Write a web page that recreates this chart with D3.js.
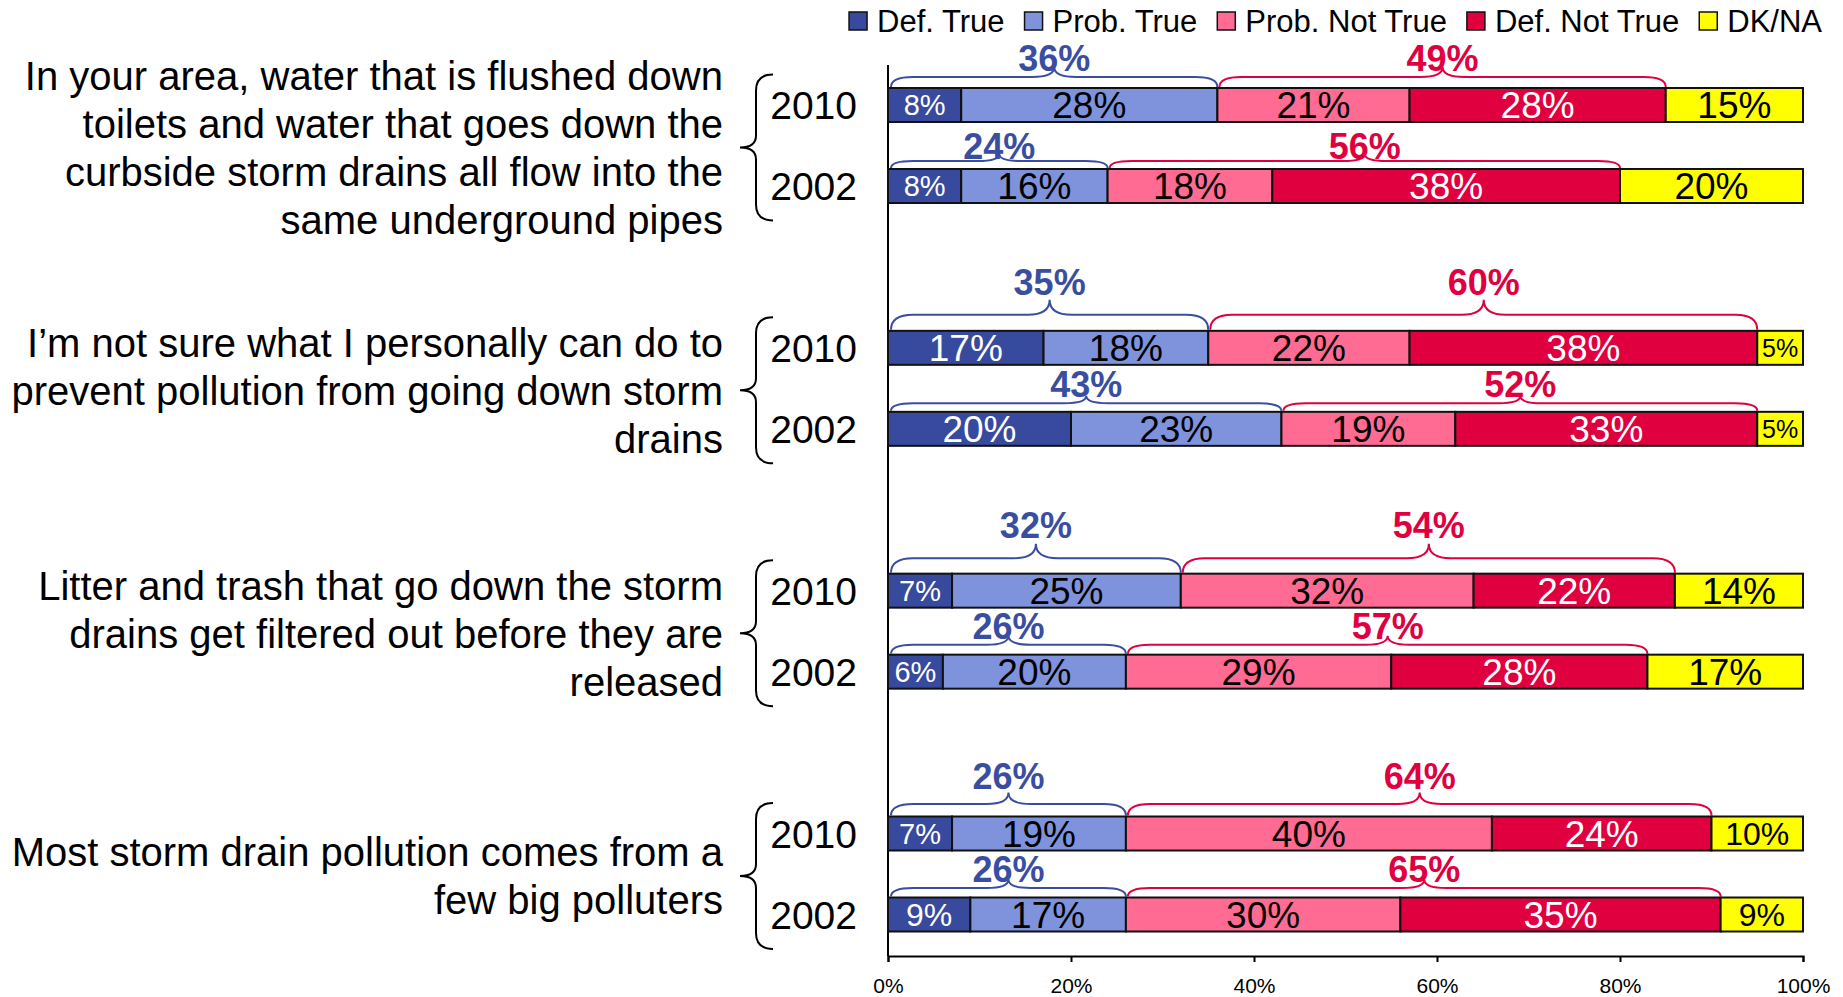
<!DOCTYPE html>
<html>
<head>
<meta charset="utf-8">
<script src="https://cdn.jsdelivr.net/npm/d3@7"></script>
<style>
  html, body { margin: 0; padding: 0; background: #fff; }
  svg { display: block; font-family: "Liberation Sans", Arial, sans-serif; }
</style>
</head>
<body>
<svg id="chart" width="1843" height="997"></svg>
<script>
// ---------------- DATA ----------------
const categories = [
  ["In your area, water that is flushed down", "toilets and water that goes down the", "curbside storm drains all flow into the", "same underground pipes"],
  ["I\u2019m not sure what I personally can do to", "prevent pollution from going down storm", "drains"],
  ["Litter and trash that go down the storm", "drains get filtered out before they are", "released"],
  ["Most storm drain pollution comes from a", "few big polluters"]
];
const years = ["2010", "2002"];
const seriesNames = ["Def. True", "Prob. True", "Prob. Not True", "Def. Not True", "DK/NA"];
// rows: group1-2010, group1-2002, group2-2010, group2-2002, ...
const defTrue     = [8, 8, 17, 20, 7, 6, 7, 9];
const probTrue    = [28, 16, 18, 23, 25, 20, 19, 17];
const probNotTrue = [21, 18, 22, 19, 32, 29, 40, 30];
const defNotTrue  = [28, 38, 38, 33, 22, 28, 24, 35];
const dkNA        = [15, 20, 5, 5, 14, 17, 10, 9];
const tickValues  = [0, 0.2, 0.4, 0.6, 0.8, 1];

// ---------------- LAYOUT / STYLE ----------------
const W = 1843, H = 997;
const colors = ["#374a9d", "#7f93dc", "#ff6b93", "#e0003f", "#ffff00"];
const labelColors = ["#fff", "#000", "#000", "#fff", "#000"];
const blue = "#3a4ea1", red = "#e0003f";
const fontFamily = '"Liberation Sans", Arial, sans-serif';
// brace tip rise above bar top, per group [2010, 2002]
const braceRise = [[20, 14], [30, 15], [29, 18], [23, 17]];
// brace label centre above bar top, per group [2010, 2002]
const labelRise = [[30, 23], [49, 28], [49, 29], [40, 28]];

const keys = ["dt", "pt", "pnt", "dnt", "dk"];
const rows = defTrue.map((d, i) => ({
  g: Math.floor(i / 2),
  year: years[i % 2],
  dt: defTrue[i] / 100, pt: probTrue[i] / 100, pnt: probNotTrue[i] / 100,
  dnt: defNotTrue[i] / 100, dk: dkNA[i] / 100
}));
const stacked = d3.stack().keys(keys)(rows);

const svg = d3.select("#chart");
svg.append("rect").attr("width", W).attr("height", H).attr("fill", "#fff");

const x = d3.scaleLinear().domain([0, 1]).range([888, 1803]);
const gScale = d3.scalePoint().domain(d3.range(categories.length)).range([145.5, 874]);
const yrScale = d3.scalePoint().domain(years).range([-40.5, 40.5]);
const barH = 34;
const yc = r => gScale(r.g) + yrScale(r.year);

// axis
const axisY = 956;
const axis = d3.axisBottom(x).tickValues(tickValues).tickFormat(d3.format(".0%"))
  .tickSize(6).tickPadding(16);
const ag = svg.append("g").attr("transform", `translate(0,${axisY})`).call(axis);
ag.select(".domain").attr("stroke", "#000").attr("stroke-width", 2);
ag.selectAll(".tick line").attr("stroke", "#000").attr("stroke-width", 2);
ag.selectAll(".tick text").attr("font-size", 21).attr("fill", "#000").attr("font-family", fontFamily);

// vertical axis line
svg.append("line").attr("x1", x(0)).attr("x2", x(0)).attr("y1", 65).attr("y2", axisY)
  .attr("stroke", "#000").attr("stroke-width", 2);

// bars
stacked.forEach((layer, si) => {
  const lg = svg.append("g");
  lg.selectAll("rect").data(layer).enter().append("rect")
    .attr("x", d => x(d[0]))
    .attr("width", d => x(d[1]) - x(d[0]))
    .attr("y", d => yc(d.data) - barH / 2)
    .attr("height", barH)
    .attr("fill", colors[si])
    .attr("stroke", "#111").attr("stroke-width", 2);
});
stacked.forEach((layer, si) => {
  svg.append("g").selectAll("text").data(layer).enter().append("text")
    .attr("x", d => (x(d[0]) + x(d[1])) / 2)
    .attr("y", d => yc(d.data))
    .attr("dy", "0.36em")
    .attr("text-anchor", "middle")
    .attr("font-size", d => {
      const v = Math.round((d[1] - d[0]) * 100);
      return v <= 5 ? 25 : v < 9 ? 29 : v <= 10 ? 32 : 37;
    })
    .attr("fill", labelColors[si])
    .text(d => Math.round((d[1] - d[0]) * 100) + "%");
});

// braces above bars
function hBrace(x1, x2, yb, rise) {
  const yt = yb - rise, yh = yb - rise * 0.5;
  const xm = (x1 + x2) / 2;
  const r = Math.min(22, (x2 - x1) / 4);
  return `M${x1},${yb} Q${x1},${yh} ${x1 + r},${yh} L${xm - r},${yh} Q${xm},${yh} ${xm},${yt} ` +
         `Q${xm},${yh} ${xm + r},${yh} L${x2 - r},${yh} Q${x2},${yh} ${x2},${yb}`;
}
rows.forEach((r, i) => {
  const barTop = yc(r) - barH / 2;
  const top = barTop - 1;
  const rise = braceRise[r.g][i % 2];
  const lRise = labelRise[r.g][i % 2];
  const tSum = r.dt + r.pt;
  const nSum = r.pnt + r.dnt;
  const spans = [
    { a: 0, b: tSum, c: blue, v: tSum, pad1: 3 },
    { a: tSum, b: tSum + nSum, c: red, v: nSum, pad1: 2 }
  ];
  spans.forEach(s => {
    const x1 = x(s.a) + s.pad1, x2 = x(s.b);
    svg.append("path").attr("d", hBrace(x1, x2, top, rise))
      .attr("fill", "none").attr("stroke", s.c).attr("stroke-width", 2);
    svg.append("text")
      .attr("x", (x1 + x2) / 2).attr("y", barTop - lRise).attr("dy", "0.36em")
      .attr("text-anchor", "middle").attr("font-size", 36).attr("font-weight", "bold")
      .attr("fill", s.c)
      .text(Math.round(s.v * 100) + "%");
  });
});

// year labels
rows.forEach(r => {
  svg.append("text").attr("x", 857).attr("y", yc(r)).attr("dy", "0.36em")
    .attr("text-anchor", "end").attr("font-size", 39).attr("fill", "#000").text(r.year);
});

// group braces (left of years)
categories.forEach((c, g) => {
  const m = gScale(g) + 2, t = m - 73, b = m + 73;
  const xv = 756, xe = 773, xt = 740;
  const d = `M${xe},${t} Q${xv},${t} ${xv},${t + 16} L${xv},${m - 12} Q${xv},${m} ${xt},${m} ` +
            `Q${xv},${m} ${xv},${m + 12} L${xv},${b - 16} Q${xv},${b} ${xe},${b}`;
  svg.append("path").attr("d", d).attr("fill", "none").attr("stroke", "#000").attr("stroke-width", 2);
});

// category labels
categories.forEach((lines, g) => {
  const lh = 48;
  const m = gScale(g) + 2;
  const t = svg.append("text").attr("text-anchor", "end").attr("font-size", 40).attr("fill", "#000");
  lines.forEach((ln, k) => {
    t.append("tspan").attr("x", 723)
      .attr("y", m + (k - (lines.length - 1) / 2) * lh)
      .attr("dy", "0.36em").text(ln);
  });
});

// legend (right aligned to 1822)
const legFont = 31, sq = 18, gapST = 10, gapItems = 20;
const lg = svg.append("g");
const tmp = lg.append("g");
const widths = seriesNames.map(n => {
  const t = tmp.append("text").attr("font-size", legFont).text(n);
  const w = t.node().getComputedTextLength();
  t.remove();
  return w;
});
tmp.remove();
const total = d3.sum(widths) + seriesNames.length * (sq + gapST) + (seriesNames.length - 1) * gapItems;
let lx = 1822 - total;
const ly = 21;
seriesNames.forEach((n, i) => {
  lg.append("rect").attr("x", lx).attr("y", ly - sq / 2).attr("width", sq).attr("height", sq)
    .attr("fill", colors[i]).attr("stroke", "#111").attr("stroke-width", 1.5);
  lg.append("text").attr("x", lx + sq + gapST).attr("y", ly).attr("dy", "0.36em")
    .attr("font-size", legFont).attr("fill", "#000").text(n);
  lx += sq + gapST + widths[i] + gapItems;
});
</script>
</body>
</html>
